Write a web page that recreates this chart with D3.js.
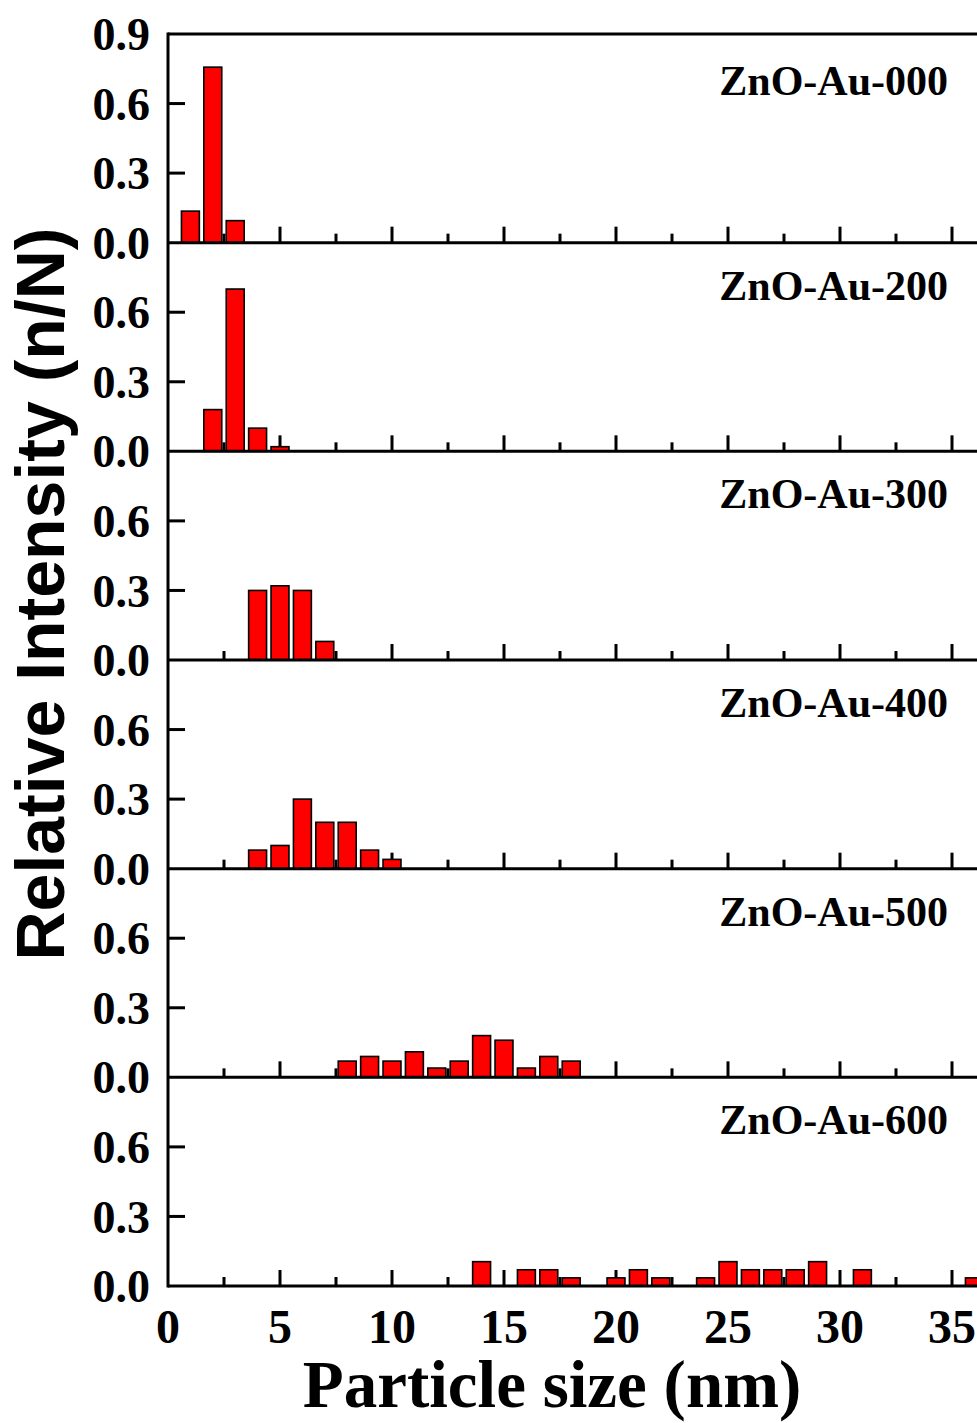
<!DOCTYPE html>
<html lang="en">
<head>
<meta charset="utf-8">
<title>Particle size distribution</title>
<script src="https://cdn.jsdelivr.net/npm/d3@7"></script>
<style>
body { margin: 0; background: #fff; }
svg { display: block; }
.ytick-label { font-family: "Liberation Serif", "Times New Roman", serif; font-weight: bold; font-size: 46px; fill: #000; }
.xtick-label { font-family: "Liberation Serif", "Times New Roman", serif; font-weight: bold; font-size: 48px; fill: #000; }
.panel-label { font-family: "Liberation Serif", "Times New Roman", serif; font-weight: bold; font-size: 42px; fill: #000; }
.axis-title-x { font-family: "Liberation Serif", "Times New Roman", serif; font-weight: bold; font-size: 67px; fill: #000; }
.axis-title-y { font-family: "Liberation Sans", Arial, sans-serif; font-weight: bold; font-size: 68px; fill: #000; }
</style>
</head>
<body>
<svg width="977" height="1423"></svg>
<script>
// sample names, top to bottom
var panelNames = ["ZnO-Au-000", "ZnO-Au-200", "ZnO-Au-300", "ZnO-Au-400", "ZnO-Au-500", "ZnO-Au-600"];

// particle size (nm) and relative intensity n/N for each sample
var sizes000 = [1, 2, 3];
var freq000  = [0.136, 0.757, 0.095];
var sizes200 = [2, 3, 4, 5];
var freq200  = [0.18, 0.70, 0.10, 0.02];
var sizes300 = [4, 5, 6, 7];
var freq300  = [0.30, 0.32, 0.30, 0.08];
var sizes400 = [4, 5, 6, 7, 8, 9, 10];
var freq400  = [0.08, 0.10, 0.30, 0.20, 0.20, 0.08, 0.04];
var sizes500 = [8, 9, 10, 11, 12, 13, 14, 15, 16, 17, 18];
var freq500  = [0.07, 0.09, 0.07, 0.11, 0.04, 0.07, 0.18, 0.16, 0.04, 0.09, 0.07];
var sizes600 = [14, 16, 17, 18, 20, 21, 22, 24, 25, 26, 27, 28, 29, 31, 36];
var freq600  = [0.105, 0.07, 0.07, 0.035, 0.035, 0.07, 0.035, 0.035, 0.105, 0.07, 0.07, 0.07, 0.105, 0.07, 0.035];

var xMajorTicks = [0, 5, 10, 15, 20, 25, 30, 35];
var xMinorTicks = [2.5, 7.5, 12.5, 17.5, 22.5, 27.5, 32.5, 37.5];
var yTicks = [0, 0.3, 0.6, 0.9];

var allSizes = [sizes000, sizes200, sizes300, sizes400, sizes500, sizes600];
var allFreq = [freq000, freq200, freq300, freq400, freq500, freq600];

var svg = d3.select("svg"),
    plotLeft = 168,
    plotTop = 34,
    plotBottom = 1286,
    rightEdge = 1000,
    panelH = (plotBottom - plotTop) / panelNames.length,
    barW = 0.8;

var x = d3.scaleLinear().domain([0, 35]).range([plotLeft, 952]);
var fmt = d3.format(".1f");

panelNames.forEach(function(name, i) {
  var y0 = plotTop + panelH * (i + 1);
  var y = d3.scaleLinear().domain([0, 0.9]).range([y0, y0 - panelH]);
  var g = svg.append("g");

  // x ticks pointing up from the panel baseline
  g.selectAll("line.major").data(xMajorTicks.slice(1)).enter().append("line")
      .attr("x1", function(d) { return x(d); }).attr("x2", function(d) { return x(d); })
      .attr("y1", y0).attr("y2", y0 - 16)
      .attr("stroke", "#000").attr("stroke-width", 3);
  g.selectAll("line.minor").data(xMinorTicks).enter().append("line")
      .attr("x1", function(d) { return x(d); }).attr("x2", function(d) { return x(d); })
      .attr("y1", y0).attr("y2", y0 - 9)
      .attr("stroke", "#000").attr("stroke-width", 3);

  // y ticks pointing right
  g.selectAll("line.ytick").data([0.3, 0.6]).enter().append("line")
      .attr("x1", plotLeft).attr("x2", plotLeft + 17)
      .attr("y1", function(d) { return y(d); }).attr("y2", function(d) { return y(d); })
      .attr("stroke", "#000").attr("stroke-width", 3);

  var data = allSizes[i].map(function(s, j) { return { size: s, value: allFreq[i][j] }; });
  g.selectAll("rect").data(data).enter().append("rect")
      .attr("x", function(d) { return x(d.size - barW / 2); })
      .attr("width", function(d) { return x(d.size + barW / 2) - x(d.size - barW / 2); })
      .attr("y", function(d) { return y(d.value); })
      .attr("height", function(d) { return y0 - y(d.value); })
      .attr("fill", "#ff0000")
      .attr("stroke", "#000")
      .attr("stroke-width", 1.6);

  // panel baseline
  g.append("line")
      .attr("x1", plotLeft).attr("x2", rightEdge)
      .attr("y1", y0).attr("y2", y0)
      .attr("stroke", "#000").attr("stroke-width", 3);

  // y tick labels (0.9 only on the top panel)
  var labels = i === 0 ? yTicks : yTicks.slice(0, 3);
  g.selectAll("text.ylab").data(labels).enter().append("text")
      .attr("class", "ytick-label")
      .attr("x", 150)
      .attr("y", function(d) { return y(d); })
      .attr("dy", "0.35em")
      .attr("text-anchor", "end")
      .text(function(d) { return fmt(d); });

  g.append("text")
      .attr("class", "panel-label")
      .attr("x", 948)
      .attr("y", y0 - panelH + (i === 0 ? 61 : 57))
      .attr("text-anchor", "end")
      .text(name);
});

// frame: top line and left axis
svg.append("line")
    .attr("x1", plotLeft).attr("x2", rightEdge)
    .attr("y1", plotTop).attr("y2", plotTop)
    .attr("stroke", "#000").attr("stroke-width", 3);
svg.append("line")
    .attr("x1", plotLeft).attr("x2", plotLeft)
    .attr("y1", plotTop - 1.5).attr("y2", plotBottom + 1.5)
    .attr("stroke", "#000").attr("stroke-width", 3);

// x tick labels
svg.selectAll("text.xlab").data(xMajorTicks).enter().append("text")
    .attr("class", "xtick-label")
    .attr("x", function(d) { return x(d); })
    .attr("y", plotBottom + 57)
    .attr("text-anchor", "middle")
    .text(function(d) { return d; });

svg.append("text")
    .attr("class", "axis-title-x")
    .attr("x", 552)
    .attr("y", 1407)
    .attr("text-anchor", "middle")
    .text("Particle size (nm)");

svg.append("text")
    .attr("class", "axis-title-y")
    .attr("transform", "translate(64,594) rotate(-90)")
    .attr("text-anchor", "middle")
    .text("Relative Intensity (n/N)");
</script>
</body>
</html>
